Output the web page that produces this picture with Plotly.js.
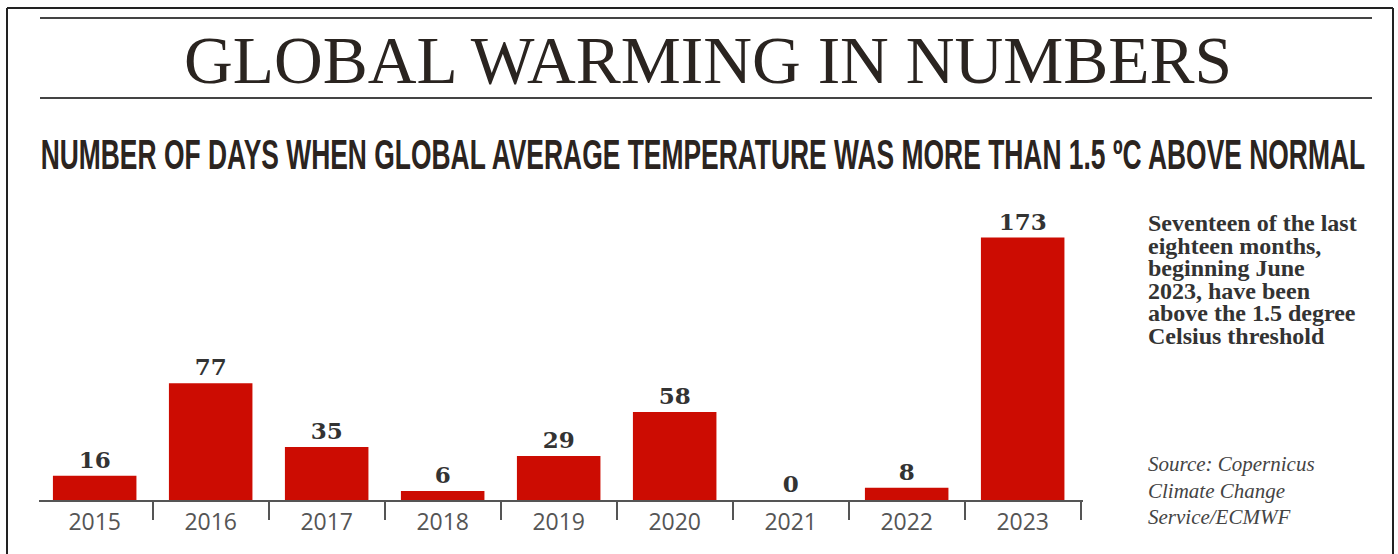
<!DOCTYPE html>
<html>
<head>
<meta charset="utf-8">
<script src="https://cdn.plot.ly/plotly-3.0.1.min.js"></script>
<style>html,body{margin:0;padding:0;background:#fff;}#chart{width:1398px;height:554px;}</style>
</head>
<body>
<div id="chart"></div>
<script>
var years = ['2015','2016','2017','2018','2019','2020','2021','2022','2023'];
var days = [16, 77, 35, 6, 29, 58, 0, 8, 173];
var titleText = 'GLOBAL WARMING IN NUMBERS';
var subtitleText = 'NUMBER OF DAYS WHEN GLOBAL AVERAGE TEMPERATURE WAS MORE THAN 1.5 \u00BAC ABOVE NORMAL';
var noteLines = ['Seventeen of the last', 'eighteen months,', 'beginning June', '2023, have been', 'above the 1.5 degree', 'Celsius threshold'];
var sourceLines = ['Source: Copernicus', 'Climate Change', 'Service/ECMWF'];

var W = 1398, H = 554;
var M = {l: 39, r: 315, t: 200, b: 54};
var PW = W - M.l - M.r, PH = H - M.t - M.b;
function px(x) { return (x - M.l) / PW; }
function py(y) { return (H - M.b - y) / PH; }

var trace = {
  type: 'bar',
  x: years,
  y: days,
  marker: {color: '#cc0c02', line: {width: 0}},
  text: days.map(String),
  textposition: 'outside',
  textfont: {family: 'DejaVu Serif', size: 23, color: '#333', weight: 'bold'},
  cliponaxis: false,
  hoverinfo: 'skip'
};

var SUB_FS = 26;
var NOTE_LEAD = 22.6;
var annotations = [];
annotations.push({
  xref: 'paper', yref: 'paper', x: px(702.5), y: py(154.5), xanchor: 'center', yanchor: 'middle',
  text: subtitleText, showarrow: false, align: 'center',
  font: {family: 'Liberation Sans', size: SUB_FS, color: '#2b2420', weight: 'bold'}
});
annotations.push({
  xref: 'paper', yref: 'paper', x: px(1146), y: py(208), xanchor: 'left', yanchor: 'top',
  text: noteLines.join('<br>'), showarrow: false, align: 'left',
  font: {family: 'Liberation Serif', size: 24, color: '#333', weight: 'bold'}
});
sourceLines.forEach(function (t, i) {
  annotations.push({
    xref: 'paper', yref: 'paper', x: px(1146), y: py(464 + i * 26.5), xanchor: 'left', yanchor: 'middle',
    text: '<i>' + t + '</i>', showarrow: false,
    font: {family: 'Liberation Serif', size: 21, color: '#444'}
  });
});

function hline(x0, x1, y, w, c) {
  return {type: 'line', xref: 'paper', yref: 'paper', x0: px(x0), x1: px(x1), y0: py(y), y1: py(y), line: {color: c, width: w}};
}
function vline(x, y0, y1, w, c) {
  return {type: 'line', xref: 'paper', yref: 'paper', x0: px(x), x1: px(x), y0: py(y0), y1: py(y1), line: {color: c, width: w}};
}
var shapes = [
  hline(7, 1393, 8, 2, '#222'),
  vline(7, 8, 554, 2, '#222'),
  vline(1393, 8, 554, 2, '#222'),
  hline(40, 1372, 18, 2, '#444'),
  hline(40, 1372, 98, 2, '#444')
];

var layout = {
  width: W, height: H,
  margin: M,
  paper_bgcolor: '#fff', plot_bgcolor: '#fff',
  showlegend: false,
  bargap: 0.28,
  title: {
    text: titleText, xref: 'container', yref: 'container', x: 708 / W, y: 1 - 59 / H,
    xanchor: 'center', yanchor: 'middle',
    font: {family: 'Liberation Serif', size: 67.5, color: '#2a2420'}
  },
  xaxis: {
    type: 'category', range: [-0.48, 8.52], fixedrange: true,
    showline: true, linecolor: '#555', linewidth: 2,
    ticks: 'outside', tickson: 'boundaries', ticklen: 18, tickwidth: 2, tickcolor: '#555',
    ticklabelstandoff: 0,
    tickfont: {family: 'Open Sans', size: 23, color: '#555'},
    showgrid: false, zeroline: false
  },
  yaxis: {range: [0, 197.8], visible: false, fixedrange: true, showgrid: false, zeroline: false},
  annotations: annotations,
  shapes: shapes
};

Plotly.newPlot('chart', [trace], layout, {staticPlot: true, displayModeBar: false}).then(function (gd) {
  gd.querySelectorAll('.annotation-text').forEach(function (el) {
    // the subtitle is set in a tall condensed face: stretch the text vertically
    if (el.textContent === subtitleText) {
      var bb = el.getBBox();
      var cx = bb.x + bb.width / 2, cy = bb.y + bb.height / 2;
      var sx = 1325 / bb.width, sy = 30 / (0.716 * SUB_FS);
      el.setAttribute('transform',
        'translate(' + cx + ',' + cy + ') scale(' + sx + ',' + sy + ') translate(' + (-cx) + ',' + (-cy) + ')');
    }
    // the side note is set with tight leading
    if (el.textContent.indexOf(noteLines[0]) === 0) {
      el.querySelectorAll('tspan.line').forEach(function (ln, i) {
        ln.setAttribute('dy', (i * NOTE_LEAD) + 'px');
      });
    }
  });
});
</script>
</body>
</html>
